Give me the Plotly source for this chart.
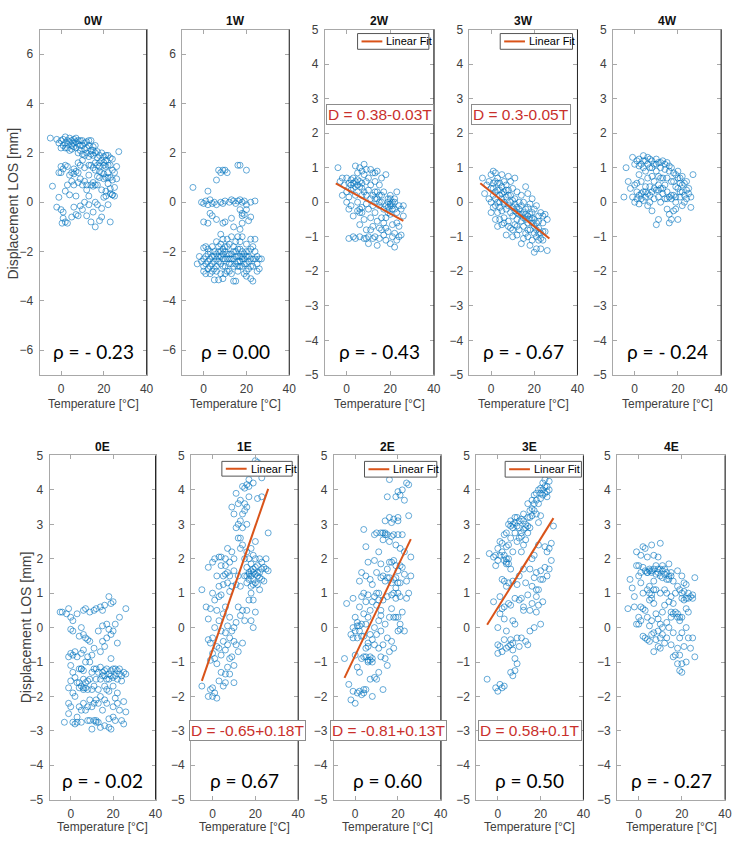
import plotly.graph_objects as go

# ---------------- data ----------------
panels = ["0W", "1W", "2W", "3W", "4W", "0E", "1E", "2E", "3E", "4E"]
rho_labels = ["ρ = - 0.23", "ρ = 0.00", "ρ = - 0.43", "ρ = - 0.67", "ρ = - 0.24",
              "ρ = - 0.02", "ρ = 0.67", "ρ = 0.60", "ρ = 0.50", "ρ = - 0.27"]
x_ticks = [0, 20, 40]
y_ticks_wide = [-6, -4, -2, 0, 2, 4, 6]
y_ticks_narrow = [-5, -4, -3, -2, -1, 0, 1, 2, 3, 4, 5]

pts_0W = [(-5,2.6),(-2,2.55),(-1,2.4),(0,2.5),(1,2.3),(2,2.65),(2,2.2),(3,2.5),(3,2.35),(4,2.45),(4,2.1),(5,2.5),(5,2.3),
          (6,2.4),(6,2.55),(7,2.2),(7,2.45),(8,2.0),(8,2.35),(9,2.5),(9,2.1),(10,2.3),(10,1.95),(11,2.4),(11,2.15),(12,2.0),
          (12,2.45),(13,2.3),(13,1.85),(14,2.1),(14,2.5),(15,1.9),(15,2.25),(16,2.3),(17,1.8),(17,2.05),(18,1.6),(19,2.0),
          (20,1.85),(21,1.7),(22,1.9),(23,1.5),(24,1.75),(27,2.05),
          (-1,1.2),(0,1.45),(1,1.35),(2,1.5),(3,1.45),(5,1.2),(6,1.15),(7,1.25),(8,1.6),(9,0.95),(10,1.7),(11,1.4),(12,0.7),
          (13,1.1),(14,1.5),(15,0.8),(15,0.65),(16,0.7),(16,1.3),(17,0.7),(18,1.45),(18,1.0),(19,1.2),(19,0.5),(20,1.5),(20,0.95),
          (21,1.0),(21,1.45),(22,0.75),(22,1.2),(23,1.0),(23,0.55),(24,0.3),(25,1.2),(25,0.25),(26,1.45),(26,0.95),(3,0.7),(6,0.7),
          (8,0.8),(10,0.7),(12,0.5),(14,0.7),(2,0.45),(-4,0.65),(5,0.85),(11,0.85),(13,0.25),
          (-1,0.2),(-2,-0.2),(0,-0.3),(1,-0.4),(0.5,-0.85),(1,-0.65),(2,-0.8),(3,-0.85),(5,-0.6),(6,-0.2),(7,-0.5),(8,-0.55),
          (9,-0.15),(10,-0.3),(11,0.0),(12,-0.55),(13,-0.1),(14,-0.8),(15,-0.4),(16,-1.0),(16,0.0),(17,-0.1),(18,-0.75),(19,-0.6),
          (19,-0.25),(20,0.2),(21,0.25),(22,-0.1),(23,-0.8),(24,0.3),(4,0.3),(7,0.25),
          (0,2.2),(1,2.55),(2,2.4),(3,2.2),(4,2.6),(5,2.15),(6,2.25),(7,2.6),(8,2.5),(9,2.3),(10,2.5),(11,1.9),(12,2.2),(13,2.5),
          (14,1.95),(15,2.1),(16,2.0),(16,1.6),(17,1.5),(18,1.9),(19,1.7),(20,1.6),(21,1.9),(22,1.5),(23,1.8),(24,1.3),(18,1.25),
          (20,1.15),(22,1.0),(24,0.9),(17,1.05),(15,1.4),(13,1.5),(9,1.5),(8,1.2),(6,1.35),(4,1.1),(0,1.2),(21,0.45),(23,0.35),
          (25,0.6)]

pts_1W = [(-5,0.6),(2,0.45),(6,0.9),(7,1.3),(8,1.2),(9,1.3),(10,1.3),(11,1.2),(16,1.5),(17,1.5),(20,1.3),
          (-1,0),(0,-0.05),(1,0.05),(2,-0.1),(3,0.1),(4,-0.05),(5,0),(6,-0.1),(8,0),(9,-0.05),(10,0.05),(12,0),(13,0.1),(14,0.05),
          (15,-0.05),(16,0.05),(17,0.1),(18,0),(19,0.05),(20,-0.1),(22,0),(24,0.05),
          (0,-0.8),(2,-0.85),(3,-0.45),(4,-0.55),(6,-0.7),(9,-0.85),(10,-0.8),(13,-0.65),(14,-1.0),(17,-0.3),(18,-0.45),(18,-0.55),
          (19,-0.5),(20,-0.3),(21,-0.75),(22,-0.6),(17,-1.1),(18,-0.85),(16,-1.4),
          (-3,-2.5),(-1,-2.4),(0,-1.85),(0,-2.3),(0,-2.6),(0,-2.8),(1,-2.2),(1,-2.9),(2,-2.4),(2,-2.7),(3,-2.0),(3,-2.3),(3,-2.9),
          (4,-1.8),(4,-2.5),(4,-2.2),(5,-2.4),(5,-2.7),(5,-3.15),(6,-1.6),(6,-2.1),(6,-2.3),(6,-2.6),(7,-3.15),(7,-2.0),(7,-1.8),
          (7,-2.4),(8,-1.3),(8,-2.2),(8,-2.5),(8,-2.9),(9,-1.5),(9,-1.9),(9,-2.3),(9,-3.1),(10,-1.8),(10,-2.6),(10,-2.0),(11,-2.3),
          (11,-2.8),(11,-1.5),(12,-2.1),(12,-2.5),(12,-1.7),(13,-2.3),(13,-2.9),(13,-1.4),(14,-2.0),(14,-2.6),(14,-3.2),(15,-1.6),
          (15,-2.2),(15,-3.2),(16,-2.4),(16,-1.9),(16,-2.8),(17,-2.2),(17,-1.6),(17,-2.6),(18,-2.3),(18,-2.0),(18,-1.4),(19,-2.5),
          (19,-2.9),(20,-2.2),(20,-1.7),(20,-2.8),(21,-2.4),(21,-2.0),(22,-1.5),(22,-2.6),(22,-3.1),(23,-3.2),(23,-2.3),(24,-2.0),
          (24,-1.5),(25,-2.5),(25,-2.8),(26,-2.3),(27,-2.3),(23,-1.8),(20,-3.0),(2,-1.9),(1,-1.8),
          (-2,-2.2),(1,-2.5),(2,-2.1),(3,-2.6),(4,-2.8),(5,-2.0),(5,-2.2),(6,-2.8),(7,-2.2),(8,-2.0),(8,-1.7),(9,-2.1),(9,-2.6),
          (10,-2.3),(10,-2.9),(11,-2.1),(11,-1.8),(12,-2.3),(12,-2.8),(13,-2.1),(13,-2.5),(14,-2.3),(14,-1.8),(15,-2.5),(15,-2.0),
          (16,-2.2),(16,-2.6),(17,-2.4),(17,-1.9),(18,-2.6),(18,-2.2),(19,-2.1),(19,-2.3),(20,-2.5),(20,-2.0),(21,-2.2),(21,-2.7),
          (22,-2.3),(22,-1.9),(23,-2.6),(24,-2.3),(25,-2.2),(26,-2.7)]

pts_2W = [(-4,1.0),(-3,0.6),(-2,0.7),(-1,0.5),(0,0.7),(0,0.3),(0,0.0),(1,0.55),(1,0.15),(1,-0.2),(2,0.65),(2,-0.1),(3,0.7),
          (3,0.4),(3,-0.4),(4,0.6),(4,1.05),(4,0.2),(5,0.5),(5,0.0),(5,-0.25),(5,0.85),(6,1.0),(6,0.45),(6,-0.2),(6,-0.65),(7,0.9),
          (7,0.55),(7,0.2),(7,-0.3),(8,0.8),(8,1.1),(8,0.3),(8,-0.5),(9,0.6),(9,0.2),(9,-0.05),(9,-0.8),(10,0.7),(10,0.35),(10,-0.2),
          (10,-1.0),(11,0.5),(11,0.1),(11,-0.45),(12,0.85),(12,0.2),(12,-0.1),(12,-0.7),(13,0.6),(13,0.3),(13,-0.3),(13,-1.0),
          (14,0.9),(14,0.1),(14,-0.55),(15,0.5),(15,0.2),(15,-0.1),(15,-1.05),(16,0.7),(16,0.0),(16,-0.45),(16,-0.8),(17,0.3),
          (17,-0.2),(17,-0.6),(18,0.8),(18,-0.1),(18,-0.45),(18,-1.1),(19,0.1),(19,-0.3),(19,-0.85),(20,0.2),(20,-0.05),(20,-0.35),
          (20,-1.2),(21,0.0),(21,-0.1),(21,-0.65),(21,-1.0),(22,0.1),(22,-0.2),(22,-0.9),(22,-1.3),(23,0.3),(23,-0.3),(23,-1.1),
          (24,-0.1),(24,-0.7),(25,-0.2),(25,-0.95),(26,-0.4),(26,-0.1),(1,-1.05),(3,-1.0),(4,-1.05),(6,-1.0),(8,-1.05),(10,-1.2),
          (12,-1.05),(14,-1.25),(17,-0.95),(2,0.35),(-2,0.2),
          (2,0.5),(3,0.55),(4,0.45),(5,0.65),(6,0.6),(7,0.4),(13,0.1),(14,0.3),(15,0.0),(16,0.2),(19,0.0),(20,-0.1),(21,-0.2),
          (22,0.0),(19,-0.15),(20,0.1),(6,-0.3),(7,-0.15),(11,-0.8),(9,-1.05),(15,-0.75),(18,-0.75),(23,-0.6),(24,-1.0),(11,0.95),
          (9,0.95),(13,0.85)]

pts_3W = [(-4,0.7),(-3,0.25),(-2,0.5),(-1,0.6),(-1,0.1),(0,0.8),(0,0.4),(0,0.0),(0,-0.3),(1,0.9),(1,0.55),(1,0.2),(1,-0.15),
          (2,0.85),(2,0.6),(2,0.3),(2,-0.1),(2,-0.5),(3,0.7),(3,0.35),(3,0.0),(3,-0.3),(3,-0.7),(4,0.55),(4,0.2),(4,-0.15),(4,-0.5),
          (5,0.8),(5,0.45),(5,0.1),(5,-0.25),(5,-0.65),(6,0.6),(6,0.3),(6,-0.05),(6,-0.45),(7,0.5),(7,0.15),(7,-0.2),(7,-0.95),
          (8,0.75),(8,0.35),(8,-0.1),(8,-0.55),(9,0.6),(9,0.2),(9,-0.3),(9,-0.75),(10,0.4),(10,0.05),(10,-0.4),(10,-0.8),(11,0.7),
          (11,0.1),(11,-0.25),(11,-0.65),(12,0.3),(12,-0.15),(12,-0.5),(12,-0.95),(13,0.0),(13,-0.35),(13,-0.8),(14,0.2),(14,-0.1),
          (14,-0.55),(14,-1.2),(15,0.0),(15,-0.3),(15,-0.7),(15,-1.05),(16,0.45),(16,-0.2),(16,-0.5),(16,-0.9),(17,0.25),(17,-0.15),
          (17,-0.6),(17,-1.0),(18,-0.05),(18,-0.35),(18,-0.8),(19,0.1),(19,-0.3),(19,-0.6),(19,-1.1),(20,-0.2),(20,-0.5),(20,-0.9),
          (20,-1.45),(21,-0.1),(21,-0.6),(21,-1.0),(21,-1.35),(22,-0.4),(22,-0.75),(22,-1.1),(23,-0.3),(23,-0.9),(23,-1.35),
          (24,-0.6),(24,-1.1),(25,-0.35),(25,-0.85),(26,-0.5),(26,-1.4),(10,-1.0),(4,0.0),(18,-1.25),
          (1,0.4),(2,0.1),(3,0.55),(4,0.35),(5,0.25),(6,0.0),(7,0.35),(8,0.2),(9,0.0),(10,-0.15),(11,-0.05),(12,-0.3),(13,-0.2),
          (14,-0.35),(15,-0.45),(16,-0.35),(17,-0.4),(18,-0.5),(19,-0.45),(20,-0.7),(21,-0.8),(22,-0.9),(23,-1.05),(24,-0.85),
          (6,-0.6),(8,-0.7),(12,-0.7),(17,-0.8),(22,-0.55),(24,-0.4)]

pts_4W = [(-5,0.15),(-4,1.0),(-3,0.6),(-2,0.4),(-1,1.3),(-1,0.15),(0,1.1),(0,0.5),(0,0.0),(1,1.2),(1,0.1),(1,0.55),(2,1.25),
          (2,0.8),(2,0.2),(2,-0.05),(3,1.1),(3,0.6),(3,0.1),(4,1.35),(4,1.0),(4,0.3),(4,0.05),(5,1.2),(5,0.9),(5,0.45),(5,0.15),
          (6,1.3),(6,0.7),(6,0.25),(6,-0.1),(7,1.25),(7,1.0),(7,0.45),(7,0.0),(8,1.2),(8,0.3),(8,-0.25),(9,1.1),(9,0.6),(9,0.1),
          (10,1.25),(10,0.9),(10,0.35),(10,-0.65),(11,1.15),(11,0.5),(11,0.15),(11,-0.5),(12,1.0),(12,0.4),(12,0.0),(13,1.2),
          (13,0.7),(13,0.25),(14,0.95),(14,0.5),(14,0.1),(15,1.15),(15,0.3),(15,-0.2),(16,0.9),(16,0.15),(16,-0.35),(16,-0.6),
          (17,1.0),(17,0.6),(17,0.2),(17,-0.5),(18,0.85),(18,0.2),(18,-0.25),(19,0.8),(19,0.45),(19,0.0),(19,-0.2),(20,0.9),
          (20,0.4),(20,-0.5),(21,0.7),(21,0.15),(22,0.75),(22,0.3),(22,-0.1),(23,0.55),(23,0.2),(24,0.6),(24,0.1),(25,0.4),
          (25,0.25),(26,0.15),(26,-0.15),(27,0.8),(8,0.75),(12,0.7),(21,0.55),
          (1,0.3),(3,0.25),(5,0.3),(7,0.2),(9,0.4),(11,0.35),(13,0.4),(15,0.1),(17,0.1),(19,0.15),(21,0.3),(23,0.0),(2,1.05),
          (4,1.2),(6,1.1),(8,1.0),(10,1.1),(12,1.15),(14,1.1),(16,1.05),(18,0.6),(20,0.7),(22,0.5),(24,0.35),(11,0.75),(15,0.7)]

pts_0E = [(-5,0.45),(-4,0.45),(-3,-2.75),(-2,0.4),(-1,0.55),(-1,-0.85),(-1,-1.75),(-1,-2.2),(-1,-2.5),(0,0.3),(0,-0.05),
          (0,-0.75),(0,-1.1),(0,-1.55),(0,-2.3),(1,0.2),(1,-0.1),(1,-0.8),(1,-1.3),(1,-1.9),(1,-2.75),(2,-0.7),(2,-1.45),(2,-2.0),
          (2,-2.8),(3,0.4),(3,-0.85),(3,-1.6),(3,-2.6),(4,-0.25),(4,-1.2),(4,-1.75),(4,-2.3),(5,0.0),(5,-0.75),(5,-1.2),(5,-1.7),
          (5,-2.4),(5,-2.75),(6,0.5),(6,-0.2),(6,-0.65),(6,-1.25),(6,-1.75),(6,-2.2),(7,0.55),(7,-0.3),(7,-1.0),(7,-1.6),(7,-2.4),
          (8,-0.35),(8,-0.85),(8,-1.55),(8,-2.7),(9,0.45),(9,-0.4),(9,-1.0),(9,-1.5),(9,-2.1),(10,-0.8),(10,-1.3),(10,-1.8),
          (10,-2.95),(11,0.5),(11,-0.6),(11,-1.2),(11,-2.2),(11,-2.7),(12,0.55),(12,-1.5),(12,-2.1),(12,-2.7),(13,-0.1),(13,-1.3),
          (13,-1.8),(13,-2.75),(14,0.6),(14,-0.7),(14,-1.15),(14,-2.0),(14,-2.9),(15,0.5),(15,0.05),(15,-0.4),(15,-1.4),(15,-2.4),
          (16,0.65),(16,-0.55),(16,-1.25),(16,-1.7),(16,-2.85),(17,0.1),(17,-0.3),(17,-1.5),(17,-2.2),(18,0.9),(18,-0.05),
          (18,-1.35),(18,-1.85),(18,-2.65),(19,0.7),(19,-0.2),(19,-0.9),(19,-1.4),(19,-2.95),(20,0.75),(20,-0.1),(20,-1.2),
          (20,-1.7),(20,-2.3),(21,0.1),(21,-1.4),(21,-2.05),(21,-2.7),(22,-0.45),(22,-1.25),(22,-1.9),(23,0.3),(23,-1.35),
          (23,-2.4),(24,-1.55),(24,-2.7),(25,-1.3),(25,-2.15),(26,0.55),(26,-1.35),(26,-2.45),(25,-2.8),
          (5,-1.2),(6,-1.8),(7,-1.75),(4,-1.6),(6,-1.5),(8,-1.8),(15,-1.3),(16,-1.4),(17,-1.2),(18,-1.5),(19,-1.25),(20,-1.45),
          (21,-1.2),(22,-1.5),(23,-1.2),(24,-1.4),(14,-1.5),(17,-1.8),(12,-1.2),(13,-2.2),(11,-1.7),(9,-2.7),(12,-2.75),(20,-2.6),
          (18,-2.9),(3,-2.75),(22,-2.2),(16,-2.1),(10,-2.3),(8,-2.3)]

pts_1E = [(-5,1.1),(-5,-1.7),(-3,0.6),(-2,1.75),(-2,0.25),(-2,-0.35),(-2,-2.0),(-1,0.55),(-1,-0.45),(-1,-0.95),(-1,-1.8),
          (0,1.9),(0,1.0),(0,-0.3),(0,-0.75),(0,-2.0),(0,-1.75),(1,2.0),(1,0.8),(1,0.0),(1,-0.9),(1,-1.9),(2,1.5),(2,0.5),(2,-0.55),
          (2,-1.05),(2,-2.05),(3,2.05),(3,1.2),(3,0.2),(3,-0.6),(3,-1.55),(4,1.8),(4,0.95),(4,-0.1),(4,-0.8),(4,-1.3),(5,1.5),
          (5,0.4),(5,-0.4),(5,-1.7),(6,2.0),(6,1.55),(6,0.6),(6,-0.15),(6,-0.65),(6,-1.35),(7,2.3),(7,1.3),(7,0.05),(7,-0.5),
          (7,-1.15),(8,1.9),(8,1.05),(8,0.3),(8,-0.9),(8,-1.35),(9,3.5),(9,2.2),(9,1.2),(9,-0.1),(9,-0.85),(10,3.3),(10,2.0),
          (10,1.65),(10,0.0),(10,-0.4),(10,-1.6),(11,3.9),(11,2.9),(11,1.25),(11,0.15),(11,-0.5),(12,3.6),(12,2.6),(12,1.5),
          (12,0.6),(12,-0.7),(13,3.7),(13,3.1),(13,2.3),(13,1.2),(13,0.35),(14,4.1),(14,2.9),(14,2.4),(14,0.5),(14,-0.45),
          (15,4.05),(15,3.4),(15,2.0),(15,1.5),(15,0.2),(16,4.15),(16,3.0),(16,1.3),(16,0.5),(17,4.3),(17,3.8),(17,1.6),(17,0.8),
          (18,4.5),(18,2.3),(18,1.5),(18,1.0),(18,0.2),(19,4.2),(19,2.1),(19,1.4),(19,0.8),(20,4.85),(20,2.5),(20,1.75),(20,1.3),
          (20,0.45),(21,4.8),(21,3.75),(21,1.8),(21,1.5),(22,4.75),(22,2.0),(22,1.6),(22,1.1),(23,4.35),(23,3.8),(23,1.9),(23,1.4),
          (24,1.75),(24,1.35),(25,1.7),(25,2.0),(26,2.75),(26,1.65),(19,1.6),(17,1.55),(18,1.85),(16,1.75),(19,0.0),
          (16,1.5),(17,1.4),(18,1.65),(19,1.7),(20,1.55),(21,1.6),(22,1.45),(23,1.7),(20,2.0),(17,2.0),(19,1.25),(21,1.25),(18,1.2),
          (16,2.2),(14,3.3),(15,3.6),(13,2.6),(12,3.0),(16,3.5),(17,4.1),(19,4.6),(6,1.8),(7,1.6),(8,1.5),(5,1.25),(4,2.05),(3,0.9),
          (6,-1.6),(8,-0.3),(10,-1.1)]

pts_2E = [(-5,-0.9),(-4,0.7),(-3,-1.65),(-2,-0.2),(-2,-2.1),(-1,0.85),(-1,0.0),(-1,-0.3),(-1,-1.85),(0,0.3),(0,-0.1),(0,-0.8),
          (0,-2.2),(1,0.15),(1,-0.3),(1,-1.15),(1,-1.9),(2,1.35),(2,0.6),(2,-0.1),(2,-1.3),(2,-1.85),(3,1.6),(3,0.9),(3,0.1),
          (3,-0.9),(3,-1.95),(4,2.85),(4,1.0),(4,0.4),(4,-0.25),(4,-0.85),(4,-1.9),(5,2.35),(5,1.5),(5,0.75),(5,0.1),(5,-0.6),
          (5,-1.8),(6,1.9),(6,0.95),(6,0.3),(6,-0.45),(6,-1.0),(7,1.4),(7,0.5),(7,-0.2),(7,-0.95),(7,-1.5),(8,1.25),(8,0.75),
          (8,-0.35),(8,-1.0),(8,-2.0),(9,2.7),(9,1.95),(9,0.9),(9,0.0),(9,-0.5),(9,-1.45),(10,2.75),(10,1.6),(10,0.65),(10,-0.2),
          (10,-1.5),(11,2.2),(11,1.0),(11,0.2),(11,-0.6),(11,-1.3),(12,2.75),(12,1.85),(12,1.45),(12,0.35),(12,-0.1),(12,-0.85),
          (13,2.55),(13,1.5),(13,0.8),(13,-0.5),(13,-1.8),(14,3.1),(14,2.75),(14,1.35),(14,0.1),(14,-0.9),(15,3.8),(15,2.7),
          (15,1.7),(15,0.9),(15,-0.3),(15,-1.1),(16,4.3),(16,3.2),(16,2.5),(16,1.45),(16,0.3),(16,-0.7),(17,3.05),(17,2.65),
          (17,1.3),(17,0.55),(17,-0.4),(18,3.15),(18,2.7),(18,1.0),(18,0.3),(18,-0.6),(19,3.8),(19,2.4),(19,1.8),(19,0.85),
          (20,3.95),(20,3.1),(20,2.7),(20,1.65),(20,0.3),(20,-0.1),(21,3.85),(21,2.3),(21,1.3),(21,0.9),(21,-0.05),(22,4.0),
          (22,2.7),(22,1.75),(22,0.45),(23,3.7),(23,2.2),(23,1.55),(23,-0.1),(24,4.2),(24,1.35),(24,0.85),(25,4.15),(25,3.25),
          (25,1.0),(26,1.5),(26,2.05),(20,3.2),(19,1.15),
          (13,2.75),(14,2.7),(15,1.45),(16,1.9),(17,1.9),(18,1.4),(19,1.45),(20,1.0),(21,1.8),(18,1.95),(17,0.95),(19,0.3),
          (20,1.3),(21,0.1),(6,-0.95),(7,-0.85),(8,-0.9),(5,-0.85),(6,-0.55),(3,-0.25),(2,0.05),(1,0.05),(4,-1.8),(10,1.0),
          (11,0.8),(12,0.5)]

pts_3E = [(-5,-1.5),(-4,2.15),(-2,2.05),(-2,0.75),(-1,2.1),(-1,1.8),(-1,-1.75),(0,2.3),(0,1.95),(0,0.0),(0,-0.5),(0,-0.75),
          (0,-1.85),(1,2.5),(1,2.1),(1,0.9),(1,-0.55),(1,-1.65),(2,2.45),(2,2.2),(2,1.4),(2,0.55),(2,-0.7),(2,-1.75),(3,2.7),
          (3,1.95),(3,1.35),(3,0.6),(3,-0.35),(3,-1.7),(4,2.75),(4,2.0),(4,1.9),(4,1.2),(4,-0.1),(4,-0.6),(5,3.0),(5,2.4),(5,1.85),
          (5,1.3),(5,0.7),(5,-0.55),(6,3.1),(6,2.6),(6,1.7),(6,0.65),(6,-0.5),(6,-1.3),(7,2.9),(7,2.2),(7,1.35),(7,0.2),(7,-0.65),
          (7,-1.4),(8,3.2),(8,2.75),(8,0.85),(8,0.1),(8,-0.9),(8,-1.25),(9,3.2),(9,2.5),(9,1.25),(9,-0.3),(9,-1.05),(10,3.1),
          (10,2.9),(10,1.5),(10,0.8),(10,-0.55),(11,3.15),(11,2.65),(11,2.2),(11,0.85),(11,-0.3),(12,3.3),(12,2.85),(12,2.4),
          (12,1.7),(12,0.5),(13,3.0),(13,2.55),(13,1.3),(13,-0.4),(14,3.6),(14,3.2),(14,2.75),(14,0.95),(14,-0.5),(15,3.4),
          (15,2.9),(15,1.7),(15,0.5),(15,-0.1),(16,3.7),(16,3.25),(16,2.0),(16,1.2),(16,0.7),(17,3.85),(17,3.4),(17,2.1),(17,1.45),
          (17,0.0),(18,3.9),(18,3.3),(18,1.6),(18,0.9),(18,0.45),(19,4.0),(19,3.05),(19,2.4),(19,1.1),(19,0.65),(20,4.05),
          (20,3.75),(20,3.25),(20,1.65),(20,0.1),(21,4.2),(21,3.85),(21,1.4),(21,0.75),(22,4.3),(22,3.9),(22,2.35),(22,1.75),
          (23,4.1),(23,3.8),(23,2.2),(23,1.5),(24,4.25),(24,4.0),(24,2.3),(24,1.7),(25,2.45),(25,1.95),(26,2.95),(1,0.4),(3,0.25),
          (4,1.85),(5,2.0),(3,2.1),(4,2.35),(6,2.95),(7,3.0),(8,3.05),(9,2.95),(10,2.6),(11,2.75),(12,3.1),(13,2.9),(14,2.95),
          (15,3.2),(16,3.45),(17,3.6),(18,3.7),(19,3.6),(20,3.9),(21,4.0),(22,4.1),(23,3.95),(20,1.4),(18,1.1),(12,0.6),(6,-0.35),
          (7,-0.45)]

pts_4E = [(-5,0.55),(-4,1.4),(-3,1.15),(-2,0.6),(-2,0.9),(-1,2.2),(-1,1.8),(-1,0.1),(0,1.8),(0,1.5),(0,0.3),(0,0.1),(1,2.1),
          (1,1.6),(1,1.3),(1,0.6),(1,0.2),(2,2.35),(2,1.75),(2,1.0),(2,0.55),(2,-0.25),(3,2.3),(3,1.65),(3,0.5),(3,-0.3),(4,2.05),
          (4,1.6),(4,1.1),(4,0.3),(4,-0.35),(5,1.7),(5,1.2),(5,0.8),(5,0.05),(5,-0.4),(6,2.4),(6,1.6),(6,0.95),(6,0.2),(6,-0.2),
          (7,2.1),(7,1.35),(7,0.7),(7,-0.15),(7,-0.7),(8,1.8),(8,1.1),(8,0.4),(8,-0.35),(9,2.05),(9,1.7),(9,0.25),(9,-0.55),
          (10,2.45),(10,1.5),(10,1.0),(10,0.1),(10,-0.6),(11,1.8),(11,1.45),(11,0.45),(11,-0.2),(12,1.7),(12,1.1),(12,0.65),
          (12,-0.45),(13,1.6),(13,1.0),(13,0.15),(13,-0.3),(14,1.85),(14,1.4),(14,0.75),(14,0.0),(15,1.5),(15,0.9),(15,0.3),
          (15,-0.5),(16,1.35),(16,0.7),(16,-0.15),(16,-0.85),(17,1.0),(17,0.45),(17,-0.8),(18,1.65),(18,1.2),(18,0.3),(18,-0.6),
          (18,-1.05),(19,1.1),(19,0.3),(19,-0.3),(19,-0.8),(19,-1.25),(20,1.5),(20,0.85),(20,-0.15),(20,-1.05),(20,-1.3),(21,1.3),
          (21,0.8),(21,-0.55),(22,1.25),(22,0.55),(22,0.0),(22,-1.0),(23,1.0),(23,0.45),(23,-0.3),(24,0.9),(24,-0.6),(25,0.85),
          (25,-0.3),(26,1.45),(26,-0.85),(25,0.95),
          (4,1.6),(5,1.65),(6,1.65),(7,1.7),(8,1.55),(9,1.6),(10,1.7),(11,1.65),(12,1.55),(13,1.4),(14,1.5),(15,1.6),(5,1.0),
          (6,0.85),(7,1.1),(20,1.0),(21,1.05),(22,0.85),(23,0.85),(20,0.3),(18,0.4),(19,0.2),(10,-0.3),(9,-0.1),(11,0.0),(16,0.4),
          (15,0.45)]

panel_points = [pts_0W, pts_1W, pts_2W, pts_3W, pts_4W, pts_0E, pts_1E, pts_2E, pts_3E, pts_4E]

# linear fits: panel, intercept, slope, T-start, T-end, printed equation
fit_panels = ["2W", "3W", "1E", "2E", "3E"]
fit_intercept = [0.37, 0.30, -0.65, -0.81, 0.58]
fit_slope = [-0.035, -0.05, 0.18, 0.13, 0.10]
fit_t_start = [-5, -5, -5, -5, -5]
fit_t_end = [26, 27, 26, 26, 26]
fit_text = ["D = 0.38-0.03T", "D = 0.3-0.05T", "D = -0.65+0.18T", "D = -0.81+0.13T", "D = 0.58+0.1T"]

# ---------------- layout geometry (pixels of the 737x848 page) ----------------
W, H = 737, 848
top_x = [(40, 148), (184, 292), (328, 438), (474, 583), (619, 728)]
bot_x = [(50, 157), (193, 301), (337, 445), (481, 589), (623, 732)]
top_y = (23, 374)
bot_y = (456, 806)


def px(x):
    return x / W


def py(y):
    return 1 - y / H


BLUE = "#0072BD"
ORANGE = "#D95319"
RED = "#C9302C"
AXC = "#a8a8a8"
TXT = "#404040"
FONT = "Liberation Sans, Arial, sans-serif"

fig = go.Figure()
layout = dict(width=W, height=H, margin=dict(l=0, r=0, t=0, b=0),
              paper_bgcolor="white", plot_bgcolor="white", showlegend=False)
annotations = []
shapes = []


def note(text, x, y, size=12, color=TXT, family=FONT, **kw):
    d = dict(text=text, x=px(x), y=py(y), xref="paper", yref="paper", showarrow=False,
             xanchor=kw.pop("xanchor", "center"), yanchor=kw.pop("yanchor", "middle"),
             font=dict(family=family, size=size, color=color))
    d.update(kw)
    annotations.append(d)


for i, name in enumerate(panels):
    k = i + 1
    xa = "x" if k == 1 else f"x{k}"
    ya = "y" if k == 1 else f"y{k}"
    row_top = i < 5
    xr = top_x[i] if row_top else bot_x[i - 5]
    yr = top_y if row_top else bot_y
    wide = name in ("0W", "1W")

    T = [p[0] for p in panel_points[i]]
    D = [p[1] for p in panel_points[i]]
    fig.add_trace(go.Scatter(x=T, y=D, mode="markers", xaxis=xa, yaxis=ya, showlegend=False,
                             marker=dict(symbol="circle-open", size=6, color=BLUE, opacity=0.75,
                                         line=dict(width=0.8, color=BLUE)),
                             hoverinfo="skip"))

    layout["xaxis" if k == 1 else f"xaxis{k}"] = dict(
        domain=[px(xr[0]), px(xr[1])], anchor=ya, range=[-10, 40], tickvals=x_ticks,
        ticks="inside", ticklen=4, tickcolor=AXC, showline=True, linecolor=AXC, linewidth=1,
        mirror="ticks", showgrid=False, zeroline=False, fixedrange=True,
        tickfont=dict(family=FONT, size=12, color=TXT), ticklabelstandoff=3)
    layout["yaxis" if k == 1 else f"yaxis{k}"] = dict(
        domain=[py(yr[1]), py(yr[0])], anchor=xa,
        range=[-7, 7] if wide else [-5, 5],
        tickvals=y_ticks_wide if wide else y_ticks_narrow,
        ticks="inside", ticklen=4, tickcolor=AXC, showline=True, linecolor=AXC, linewidth=1,
        mirror="ticks", showgrid=False, zeroline=False, fixedrange=True,
        tickfont=dict(family=FONT, size=12, color=TXT), ticklabelstandoff=3)

    # darker right edge of each box
    shapes.append(dict(type="line", xref=f"{xa} domain", yref=f"{ya} domain",
                       x0=1, x1=1, y0=0, y1=1, line=dict(color="#262626", width=1)))

    cx = (xr[0] + xr[1]) / 2
    note(f"<b>{name}</b>", cx, 14 if row_top else 447, color="#111111")
    note("Temperature [°C]", cx, 404 if row_top else 834)
    note(rho_labels[i], cx, 350 if row_top else 786, size=19, color="#000000",
         family="Lato, Open Sans, sans-serif")

note("Displacement LOS [mm]", 13, 200, size=14, textangle=-90)
note("Displacement LOS [mm]", 26, 631, size=14, textangle=-90)

# fit lines, legend boxes and equation boxes
legend_box = {"2W": (361, 433, 27, 43), "3W": (505, 578, 27, 43), "1E": (224, 295, 462, 477),
              "2E": (368, 441, 462, 478), "3E": (510, 587, 462, 478)}
eq_center = {"2W": (384, 109), "3W": (526, 109), "1E": (250, 736), "2E": (392, 736), "3E": (535, 736)}

for j, name in enumerate(fit_panels):
    i = panels.index(name)
    k = i + 1
    xa = "x" if k == 1 else f"x{k}"
    ya = "y" if k == 1 else f"y{k}"
    t_line = [fit_t_start[j], fit_t_end[j]]
    d_line = [fit_intercept[j] + fit_slope[j] * t for t in t_line]
    fig.add_trace(go.Scatter(x=t_line, y=d_line, mode="lines", xaxis=xa, yaxis=ya,
                             name="Linear Fit", line=dict(color=ORANGE, width=2),
                             hoverinfo="skip"))
    L, R, Tp, B = legend_box[name]
    shapes.append(dict(type="rect", xref="paper", yref="paper", x0=px(L), x1=px(R), y0=py(B), y1=py(Tp),
                       line=dict(color="#555555", width=1), fillcolor="white", layer="above"))
    mid = (Tp + B) / 2
    shapes.append(dict(type="line", xref="paper", yref="paper", x0=px(L + 4), x1=px(L + 25),
                       y0=py(mid), y1=py(mid), line=dict(color=ORANGE, width=2), layer="above"))
    note("Linear Fit", L + 27, mid, size=11, color="#000000", xanchor="left")

    ex, ey = eq_center[name]
    note(fit_text[j], ex, ey, size=15.5, color=RED, bgcolor="white", bordercolor="#8c8c8c",
         borderwidth=1, borderpad=1)

layout["annotations"] = annotations
layout["shapes"] = shapes
fig.update_layout(**layout)
fig.write_html("out.html", config={"displayModeBar": False},
               post_script="document.body.style.margin='0';document.body.style.overflow='hidden';")
